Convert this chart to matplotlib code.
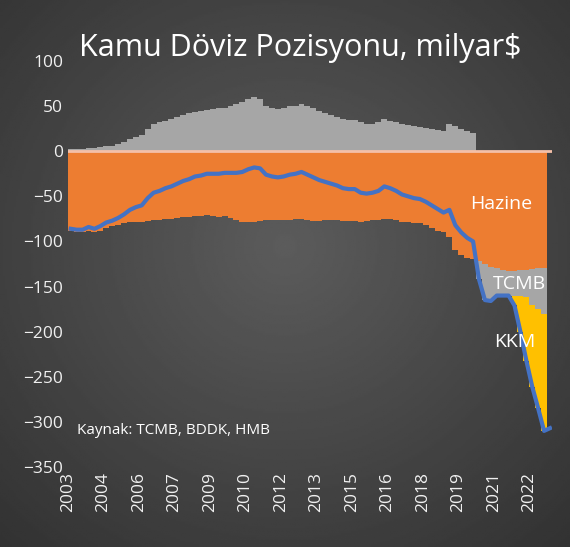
import numpy as np
import matplotlib
matplotlib.use("Agg")
import matplotlib.pyplot as plt

# quarterly data, 2003Q1 .. 2023Q2 (milyar $)
t = 2003 + 0.25 * np.arange(82)
hazine = [
    -88, -90, -90, -88, -90, -88, -85, -83, -82, -80, -79, -78,
    -78, -77, -76, -76, -75, -75, -74, -73, -73, -72, -72, -71,
    -72, -73, -72, -74, -76, -78, -78, -78, -77, -76, -76, -76,
    -76, -76, -75, -75, -76, -77, -77, -76, -76, -76, -77, -77,
    -77, -78, -77, -76, -76, -75, -75, -76, -78, -79, -80, -80,
    -82, -85, -88, -90, -95, -110, -115, -118, -120, -122, -125, -128,
    -130, -132, -133, -133, -132, -132, -131, -130, -130, -130,
]
tcmb = [
    2, 3, 3, 4, 4, 5, 6, 6, 8, 10, 14, 16,
    18, 25, 30, 32, 34, 36, 38, 40, 42, 44, 45, 46,
    47, 48, 48, 50, 52, 55, 58, 60, 58, 50, 48, 47,
    48, 50, 50, 52, 50, 48, 45, 42, 40, 38, 36, 35,
    35, 32, 30, 30, 32, 36, 34, 32, 30, 29, 28, 27,
    26, 25, 24, 22, 30, 28, 25, 22, 20, -20, -40, -38,
    -30, -28, -27, -28, -28, -30, -40, -45, -50, -52,
]
kkm = [0] * 75 + [-10, -40, -70, -90, -110, -130, -125]

hazine = np.array(hazine, float)
tcmb = np.array(tcmb, float)
kkm = np.array(kkm, float)
total = hazine + tcmb + kkm

tick_years = [2003, 2004.5, 2006, 2007.5, 2009, 2010.5, 2012, 2013.5,
              2015, 2016.5, 2018, 2019.5, 2021, 2022.5]

fig = plt.figure(figsize=(5.7, 5.47), dpi=100)
plt.rcParams["font.family"] = ["Open Sans", "DejaVu Sans"]

# radial gradient background
bg = fig.add_axes([0, 0, 1, 1], zorder=-1)
yy, xx = np.mgrid[0:1:300j, 0:1:300j]
r = np.sqrt((xx - 0.5) ** 2 + (yy - 0.45) ** 2)
bg.imshow(0.36 - 0.22 * r, cmap="gray", vmin=0, vmax=1, aspect="auto",
          extent=[0, 1, 0, 1])
bg.axis("off")

ax = fig.add_axes([0.119, 0.1463, 0.849, 0.7422])
ax.patch.set_alpha(0)

tpos = np.clip(tcmb, 0, None)
tneg = np.clip(tcmb, None, 0)
ax.fill_between(t, 0, tpos, color="#a6a6a6", step="post", lw=0)
ax.fill_between(t, 0, hazine, color="#ED7D31", step="post", lw=0)
ax.fill_between(t, hazine, hazine + tneg, color="#a6a6a6", step="post", lw=0)
ax.fill_between(t, hazine + tneg, hazine + tneg + kkm, color="#FFC000", step="post", lw=0)
ax.axhline(0, color="#f4c0a8", lw=2)
ax.plot(t + 0.125, total, color="#4472C4", lw=3)

ax.set_xlim(2003, 2023.45)
ax.set_ylim(-350, 100)
ax.set_yticks(range(-350, 101, 50))
ax.set_xticks(tick_years)
ax.set_xticklabels([str(int(y)) for y in tick_years], rotation=90)
ax.tick_params(colors="#f0f0f0", labelsize=12.5, length=0)
for s in ax.spines.values():
    s.set_visible(False)

ax.text(2021.3, -58, "Hazine", color="white", fontsize=14, ha="center", va="center")
ax.text(2022.1, -147, "TCMB", color="white", fontsize=14, ha="center", va="center")
ax.text(2021.9, -212, "KKM", color="white", fontsize=14, ha="center", va="center")
ax.text(2003.4, -310, "Kaynak: TCMB, BDDK, HMB", color="white", fontsize=11, va="center")

fig.text(0.526, 0.912, "Kamu Döviz Pozisyonu, milyar$", color="white",
         fontsize=22, ha="center", va="center")

fig.savefig("out.png", dpi=100)
